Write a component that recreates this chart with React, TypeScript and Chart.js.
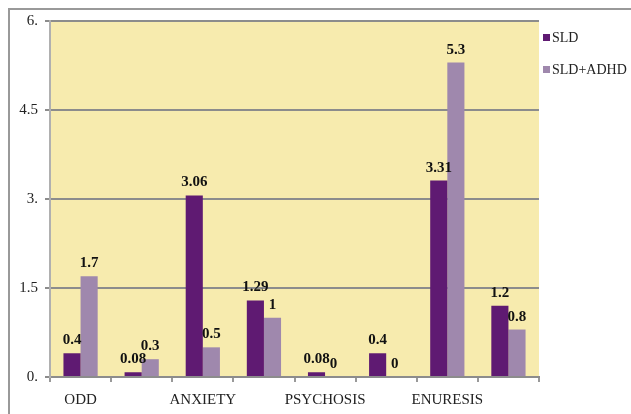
import React, { useEffect, useRef } from "react";
import { Chart, registerables } from "chart.js";

Chart.register(...registerables);

const categories = ["ODD", "", "ANXIETY", "", "PSYCHOSIS", "", "ENURESIS", ""];
const sldValues = [0.4, 0.08, 3.06, 1.29, 0.08, 0.4, 3.31, 1.2];
const sldAdhdValues = [1.7, 0.3, 0.5, 1, 0, 0, 5.3, 0.8];
const yTickLabels: Record<string, string> = { "0": "0.", "1.5": "1.5", "3": "3.", "4.5": "4.5", "6": "6." };
const seriesNames = ["SLD", "SLD+ADHD"];
const seriesColors = ["#5F1A72", "#9F88AD"];

const FONT = "'Liberation Serif', 'Times New Roman', serif";

const bgPlugin = {
  id: "plotBg",
  beforeDraw(chart: any) {
    const { ctx, chartArea } = chart;
    ctx.save();
    ctx.fillStyle = "#F7EBAE";
    ctx.fillRect(chartArea.left, chartArea.top, chartArea.right - chartArea.left, chartArea.bottom - chartArea.top);
    ctx.restore();
  },
};

const labelPlugin = {
  id: "valueLabels",
  afterDatasetsDraw(chart: any) {
    const { ctx } = chart;
    ctx.save();
    ctx.font = `bold 15px ${FONT}`;
    ctx.fillStyle = "#111";
    ctx.textAlign = "center";
    ctx.textBaseline = "alphabetic";
    chart.data.datasets.forEach((ds: any, di: number) => {
      const meta = chart.getDatasetMeta(di);
      meta.data.forEach((bar: any, i: number) => {
        const v = ds.data[i];
        ctx.fillText(String(v), bar.x, bar.y - 9);
      });
    });
    ctx.restore();
  },
};

const legendPlugin = {
  id: "customLegend",
  afterDraw(chart: any) {
    const { ctx, chartArea } = chart;
    ctx.save();
    ctx.font = `14px ${FONT}`;
    ctx.textBaseline = "middle";
    ctx.textAlign = "left";
    seriesNames.forEach((name, i) => {
      const x = chartArea.right + 4;
      const y = 28 + i * 32;
      ctx.fillStyle = seriesColors[i];
      ctx.fillRect(x, y - 4, 7, 7);
      ctx.fillStyle = "#222";
      ctx.fillText(name, x + 9, y);
    });
    ctx.restore();
  },
};

export default function App() {
  const ref = useRef<HTMLCanvasElement>(null);
  useEffect(() => {
    document.body.style.margin = "8px 0 0 8px";
    document.body.style.overflow = "hidden";
    if (!ref.current) return;
    const chart = new Chart(ref.current, {
      type: "bar",
      data: {
        labels: categories,
        datasets: [
          { label: seriesNames[0], data: sldValues, backgroundColor: seriesColors[0] },
          { label: seriesNames[1], data: sldAdhdValues, backgroundColor: seriesColors[1] },
        ],
      },
      options: {
        responsive: false,
        animation: false,
        layout: { padding: { top: 11, right: 92, left: 0, bottom: 0 } },
        datasets: { bar: { categoryPercentage: 0.56, barPercentage: 1 } },
        plugins: { legend: { display: false }, tooltip: { enabled: false } },
        scales: {
          x: {
            afterFit(scale: any) {
              scale.height = 37;
              scale.paddingLeft = 0;
              scale.paddingRight = 0;
            },
            grid: {
              drawOnChartArea: false,
              drawTicks: true,
              tickLength: 5,
              color: "#999",
              lineWidth: 2,
              offset: true,
            },
            border: { display: true, color: "#8c8c8c", width: 2 },
            ticks: {
              autoSkip: false,
              maxRotation: 0,
              padding: 9,
              color: "#222",
              font: { family: FONT, size: 15 },
            },
          },
          y: {
            min: 0,
            max: 6,
            afterFit(scale: any) {
              scale.width = 40;
              scale.paddingTop = 0;
              scale.paddingBottom = 0;
            },
            ticks: {
              stepSize: 1.5,
              padding: 7,
              color: "#222",
              font: { family: FONT, size: 15 },
              callback: (v: any) => yTickLabels[String(v)] ?? String(v),
            },
            grid: { color: "#8c8c8c", lineWidth: 2, tickLength: 5 },
            border: { display: true, color: "#b0b0b0", width: 2 },
          },
        },
      },
      plugins: [bgPlugin, labelPlugin, legendPlugin],
    });
    return () => chart.destroy();
  }, []);
  return (
    <div
      style={{
        width: 623,
        height: 406,
        borderTop: "2px solid #999",
        borderLeft: "2px solid #999",
        boxSizing: "border-box",
      }}
    >
      <canvas ref={ref} width={621} height={404} style={{ display: "block", width: 621, height: 404 }} />
    </div>
  );
}
